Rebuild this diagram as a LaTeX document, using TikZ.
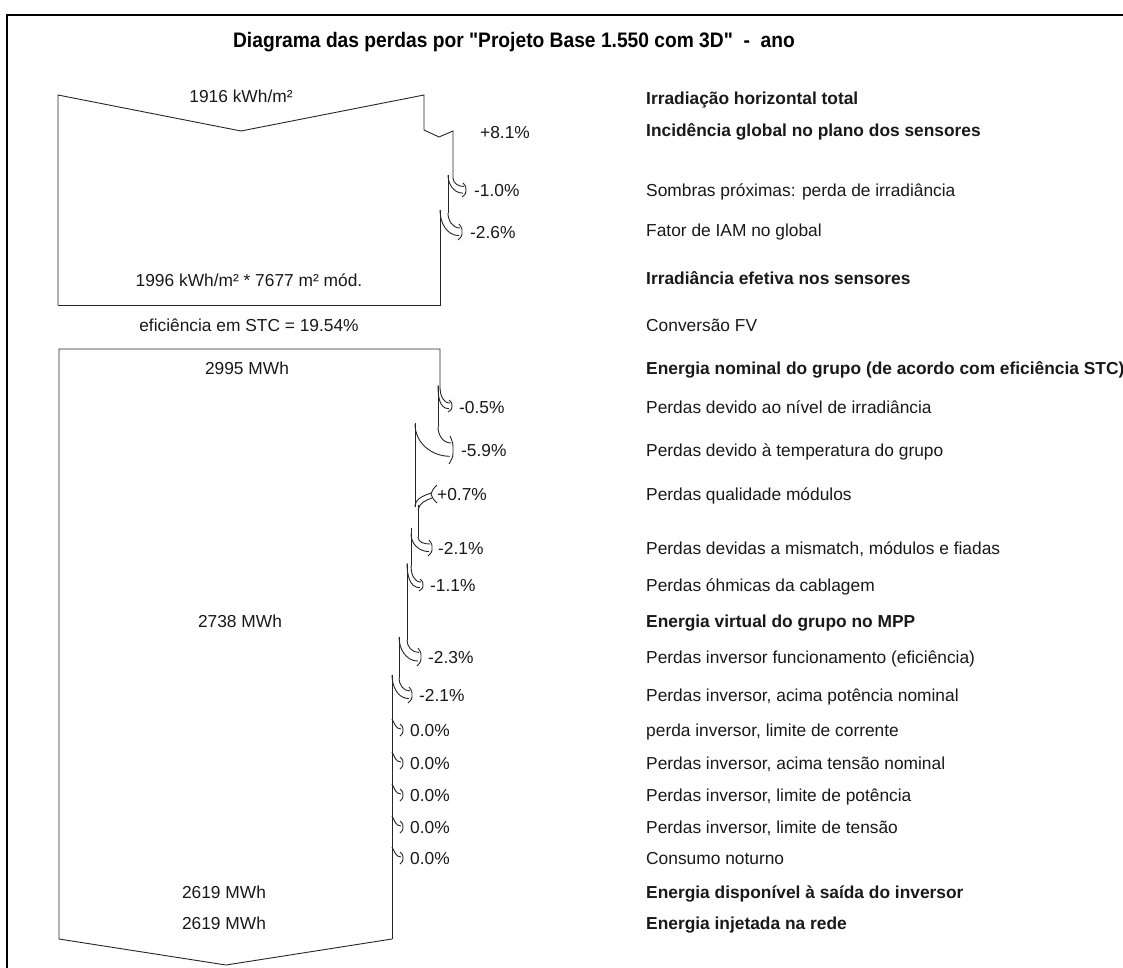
\documentclass[tikz,border=0pt]{standalone}
\usepackage{fontspec}
\setmainfont{Liberation Sans}
\newfontfamily\ttlfont{Liberation Sans}[FakeStretch=0.915]
\newcommand\lossarr[6]{%
  \draw[ln] (#1,#3) to[out=-90,in=180] (#4-2,#5-0.5*#6);
  \draw[ln] (#2,#3-3) to[out=-90,in=180] (#4-3,#5+0.45*#6);
  \draw[ln] (#4-3,#5-#6) .. controls (#4,#5-0.5*#6) .. (#4,#5) .. controls (#4,#5+0.5*#6) .. (#4-4,#5+#6);
}
\newcommand\zeroarr[2]{%
  \draw[ln] (#1,#2-11) to[out=-60,in=180] (#1+9,#2-1);
  \draw[ln] (#1+8,#2-6) .. controls (#1+11,#2-3) .. (#1+11,#2) .. controls (#1+11,#2+3) .. (#1+8,#2+6);
}
\begin{document}
\begin{tikzpicture}[x=1pt,y=-1pt,
  ln/.style={line width=0.9pt,black!85},
  frame/.style={line width=2.4pt,black},
  lbl/.style={anchor=base west,inner sep=0pt,text=black!90,font=\fontsize{17.35}{20}\selectfont},
  blbl/.style={lbl,font=\fontsize{17.35}{20}\selectfont\bfseries},
  pct/.style={lbl},
  val/.style={anchor=base,inner sep=0pt,text=black!90,font=\fontsize{17.35}{20}\selectfont},
  ttl/.style={anchor=center,inner sep=0pt,text=black,font=\ttlfont\fontsize{21}{24}\selectfont\bfseries}]
\useasboundingbox (0,0) rectangle (1123,967);
\fill[white] (0,0) rectangle (1123,967);
% frame
\draw[frame] (7,990) -- (7,15) -- (1140,15);
% title
\node[ttl] (title) at (514,42) {Diagrama das perdas por "Projeto Base 1.550 com 3D"\ \ -\ \ ano};

% ---------- upper block (irradiance) ----------
\draw[ln] (58,305) -- (58,95) -- (241,131) -- (424,95) -- (424,130) -- (439,137) -- (453,131) -- (453,178);
\draw[ln] (448,175) -- (448,213);
\draw[ln] (440,210) -- (440,305) -- (58,305);
\lossarr{453}{448}{178}{466}{190}{7}
\lossarr{448}{440}{213}{462}{232}{8}

% ---------- lower block (energy) ----------
\draw[ln] (392,939) -- (226,965) -- (59,939) -- (59,349) -- (440,349) -- (440,388);
\draw[ln] (438,386) -- (438,427);
\draw[ln] (415,423) -- (415,507);
\draw[ln] (418,505) -- (418,537);
\draw[ln] (411,528) -- (411,566);
\draw[ln] (407,564) -- (407,640);
\draw[ln] (399,637) -- (399,678);
\draw[ln] (392,675) -- (392,939);
\lossarr{440}{438}{388}{452}{406}{6}
\lossarr{438}{415}{427}{453}{450}{14}
% gain +0.7%
\draw[ln] (415,507) to[out=90,in=200] (431,493);
\draw[ln] (418,510) to[out=80,in=200] (432,498);
\draw[ln] (437,485) .. controls (433,489) .. (431,494) .. controls (433,499) .. (437,503);
\lossarr{418}{411}{537}{432}{548}{8}
\lossarr{411}{407}{566}{423}{585}{6}
\lossarr{407}{399}{640}{421}{657}{9}
\lossarr{399}{392}{678}{412}{695}{8}
\zeroarr{392}{730}
\zeroarr{392}{763}
\zeroarr{392}{795}
\zeroarr{392}{827}
\zeroarr{392}{858}

% ---------- left values ----------
\node[val] (v1) at (241,102) {1916 kWh/m²};
\node[val] (v2) at (249,286) {1996 kWh/m² * 7677 m² mód.};
\node[val] (v3) at (249,331) {eficiência em STC = 19.54\%};
\node[val] (v4) at (247,374) {2995 MWh};
\node[val] (v5) at (240,627) {2738 MWh};
\node[val] (v6) at (224,898) {2619 MWh};
\node[val] (v7) at (224,929) {2619 MWh};

% ---------- percentages ----------
\node[pct] (p1) at (480,138) {+8.1\%};
\node[pct] (p2) at (474,196) {-1.0\%};
\node[pct] (p3) at (470,238) {-2.6\%};
\node[pct] (p4) at (459,413) {-0.5\%};
\node[pct] (p5) at (461,456) {-5.9\%};
\node[pct] (p6) at (437,500) {+0.7\%};
\node[pct] (p7) at (438,554) {-2.1\%};
\node[pct] (p8) at (430,591) {-1.1\%};
\node[pct] (p9) at (428,663) {-2.3\%};
\node[pct] (p10) at (419,701) {-2.1\%};
\node[pct] (p11) at (410,736) {0.0\%};
\node[pct] (p12) at (410,769) {0.0\%};
\node[pct] (p13) at (410,801) {0.0\%};
\node[pct] (p14) at (410,833) {0.0\%};
\node[pct] (p15) at (410,864) {0.0\%};

% ---------- right labels ----------
\node[blbl] (r1) at (646,104) {Irradiação horizontal total};
\node[blbl] (r2) at (646,136) {Incidência global no plano dos sensores};
\node[lbl] (r3) at (646,196) {Sombras próximas: perda de irradiância};
\node[lbl] (r4) at (646,236) {Fator de IAM no global};
\node[blbl] (r5) at (646,284) {Irradiância efetiva nos sensores};
\node[lbl] (r6) at (646,331) {Conversão FV};
\node[blbl] (r7) at (646,374) {Energia nominal do grupo (de acordo com eficiência STC)};
\node[lbl] (r8) at (646,413) {Perdas devido ao nível de irradiância};
\node[lbl] (r9) at (646,456) {Perdas devido à temperatura do grupo};
\node[lbl] (r10) at (646,500) {Perdas qualidade módulos};
\node[lbl] (r11) at (646,554) {Perdas devidas a mismatch, módulos e fiadas};
\node[lbl] (r12) at (646,591) {Perdas óhmicas da cablagem};
\node[blbl] (r13) at (646,627) {Energia virtual do grupo no MPP};
\node[lbl] (r14) at (646,663) {Perdas inversor funcionamento (eficiência)};
\node[lbl] (r15) at (646,701) {Perdas inversor, acima potência nominal};
\node[lbl] (r16) at (646,736) {perda inversor, limite de corrente};
\node[lbl] (r17) at (646,769) {Perdas inversor, acima tensão nominal};
\node[lbl] (r18) at (646,801) {Perdas inversor, limite de potência};
\node[lbl] (r19) at (646,833) {Perdas inversor, limite de tensão};
\node[lbl] (r20) at (646,864) {Consumo noturno};
\node[blbl] (r21) at (646,898) {Energia disponível à saída do inversor};
\node[blbl] (r22) at (646,929) {Energia injetada na rede};
\end{tikzpicture}
\end{document}
